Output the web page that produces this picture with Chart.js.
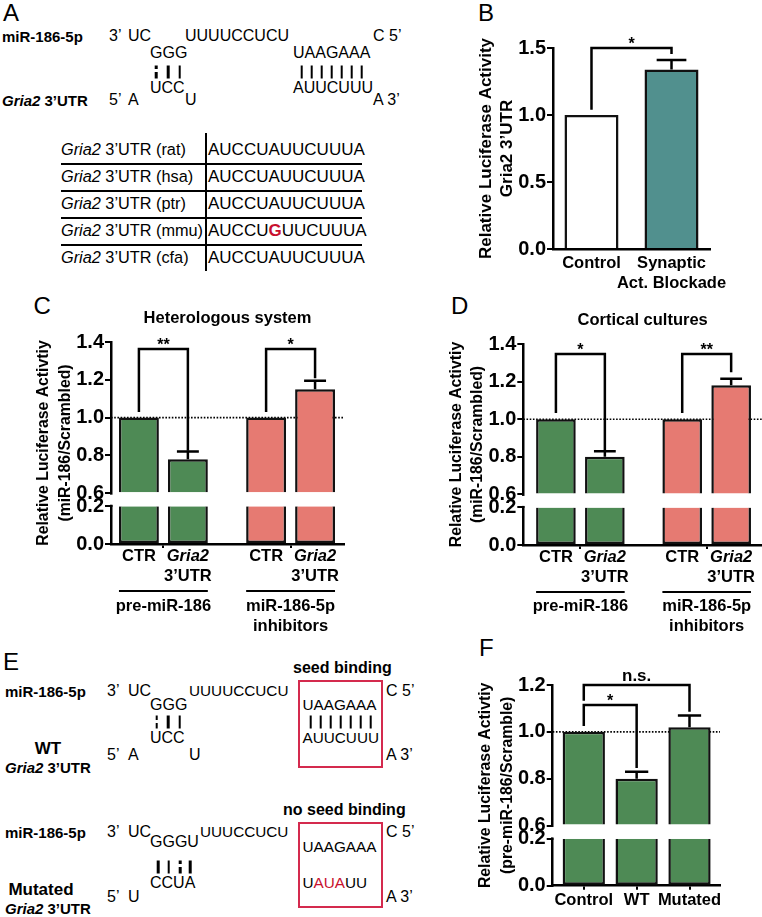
<!DOCTYPE html>
<html>
<head>
<meta charset="utf-8">
<title>miR-186-5p targets Gria2 3'UTR</title>
<script src="https://cdn.jsdelivr.net/npm/chart.js@4.4.1/dist/chart.umd.min.js"></script>
<style>
  html, body { margin: 0; padding: 0; background: #fff; }
  body { position: relative; width: 762px; height: 917px; overflow: hidden;
         font-family: "Liberation Sans", Arial, Helvetica, sans-serif; color: #000; }
  canvas { position: absolute; }
  .t { position: absolute; white-space: nowrap; line-height: 1; transform: translateY(-50%); }
  .c { transform: translate(-50%, -50%); }
  .seq { font-size: 16px; }
  .seqs { font-size: 15.3px; }
  .lab { font-size: 15px; font-weight: bold; }
  .lab2 { font-size: 17px; font-weight: bold; }
  .tab { font-size: 16.3px; }
  .tseq { font-size: 17px; }
  .big { font-size: 24px; }
  .hd { font-size: 16px; font-weight: bold; }
  .red { color: #c8102e; }
  .pair { position: absolute; width: 2.6px; height: 13px; background: #000; transform: translate(-50%, -50%); }
  .pair.d { background: linear-gradient(#000 0 4px, transparent 4px 7px, #000 7px); }
  .hl { position: absolute; background: #000; }
  .box { position: absolute; border: 2px solid #d42a4e; box-sizing: border-box; }
</style>
</head>
<body>
<script>
// ---- values ----
const bLabels = ['Control', ['Synaptic', 'Act. Blockade']];
const bValues = [1.0, 1.34];
const bErrors = [0, 0.07];

const groupLabels = ['pre-miR-186', ['miR-186-5p', 'inhibitors']];
const cCtr = [1.0, 1.0];
const cGria2 = [0.78, 1.15];
const cGria2Err = [0.04, 0.045];

const dCtr = [1.0, 1.0];
const dGria2 = [0.80, 1.18];
const dGria2Err = [0.03, 0.035];

const fLabels = ['Control', 'WT', 'Mutated'];
const fValues = [1.0, 0.80, 1.02];
const fErrors = [0, 0.03, 0.05];

const bTicks = [0, 0.5, 1.0, 1.5];
const cdTopTicks = [0.6, 0.8, 1.0, 1.2, 1.4];
const fTopTicks = [0.6, 0.8, 1.0, 1.2];
const lowTicks = [0, 0.2];

const GREEN = '#4e8a55', SALMON = '#e67a72', TEAL = '#51908e', EDGE = '#111';
const FONT = '"Liberation Sans", Arial, Helvetica, sans-serif';

// ---- sequence panels (A and E) as plain text ----
function put(x, y, html, cls) {
  const d = document.createElement('div');
  d.className = 't ' + (cls || 'seq');
  d.style.left = x + 'px';
  d.style.top = y + 'px';
  d.innerHTML = html;
  document.body.appendChild(d);
}
function pair(x, y, dashed) {
  const d = document.createElement('div');
  d.className = dashed ? 'pair d' : 'pair';
  d.style.left = x + 'px';
  d.style.top = y + 'px';
  document.body.appendChild(d);
}
function rule(x, y, w, h, cls) {
  const d = document.createElement('div');
  d.className = cls || 'hl';
  d.style.left = x + 'px'; d.style.top = y + 'px';
  d.style.width = w + 'px'; d.style.height = h + 'px';
  document.body.appendChild(d);
}

// panel letters
put(3, 13, 'A', 'big'); put(478, 12.5, 'B', 'big');
put(33.5, 306, 'C', 'big'); put(451, 306, 'D', 'big');
put(3, 661.5, 'E', 'big'); put(479, 648, 'F', 'big');

// A: duplex
put(2, 36, 'miR-186-5p', 'lab'); put(109, 36, '3’'); put(128, 36, 'UC');
put(185, 36, 'UUUUCCUCU'); put(373, 36, 'C 5’');
put(150, 52.5, 'GGG'); put(293, 52.5, 'UAAGAAA');
put(150, 88.3, 'UCC'); put(293, 88.3, 'AUUCUUU');
put(2, 100, '<i>Gria2</i> 3’UTR', 'lab'); put(109, 100, '5’'); put(128, 100, 'A');
put(185, 100, 'U'); put(373, 100, 'A 3’');
pair(156, 71.7, true); pair(168, 71.7); pair(179.5, 71.7);
for (let i = 0; i < 7; i++) pair(301.7 + i * 10, 71.7);

// A: conservation table
const species = ['rat', 'hsa', 'ptr', 'mmu', 'cfa'];
species.forEach((s, k) => {
  const y = 149.3 + k * 27;
  put(61, y, '<i>Gria2</i> 3’UTR (' + s + ')', 'tab');
  put(208, y, s === 'mmu' ? 'AUCCU<b class="red">G</b>UUCUUUA' : 'AUCCUAUUCUUUA', 'tseq');
  if (k < 4) rule(61, y + 13.5, 301, 1.8);
});
rule(205, 133, 1.8, 138);

// E: WT duplex
put(293, 668, 'seed binding', 'hd');
put(5, 690.7, 'miR-186-5p', 'lab'); put(107, 690.7, '3’'); put(128, 690.7, 'UC');
put(189, 690.7, 'UUUUCCUCU', 'seqs'); put(386, 690.7, 'C 5’');
put(150, 705, 'GGG'); put(302.5, 705, 'UAAGAAA', 'seqs');
put(150, 738.3, 'UCC'); put(302.5, 738.3, 'AUUCUUU', 'seqs');
put(48, 748.3, 'WT', 'lab2 c');
put(107, 755, '5’'); put(128, 755, 'A'); put(189, 755, 'U'); put(386, 755, 'A 3’');
put(5, 766.7, '<i>Gria2</i> 3’UTR', 'lab');
pair(156.7, 721.7, true); pair(168.3, 721.7); pair(179.5, 721.7);
for (let i = 0; i < 7; i++) pair(310.7 + i * 10, 721.7);
rule(298, 680, 85, 88, 'box');

// E: mutated duplex
put(283, 810, 'no seed binding', 'hd');
put(5, 831.7, 'miR-186-5p', 'lab'); put(107, 831.7, '3’'); put(128, 831.7, 'UC');
put(200, 831.7, 'UUUCCUCU', 'seqs'); put(386, 831.7, 'C 5’');
put(150, 841.7, 'GGGU'); put(302.5, 846.7, 'UAAGAAA', 'seqs');
put(150, 883, 'CCUA'); put(302.5, 883, 'U<span class="red">AUA</span>UU', 'seqs');
put(41, 889, 'Mutated', 'lab2 c');
put(107, 896.7, '5’'); put(128, 896.7, 'U'); put(386, 896.7, 'A 3’');
put(5, 908.3, '<i>Gria2</i> 3’UTR', 'lab');
pair(158.3, 866.7); pair(168.5, 866.7); pair(180, 866.7, true); pair(190, 866.7);
rule(298, 821.7, 85, 86.6, 'box');

// ---- chart helpers ----
function makeCanvas(id, box) {
  const c = document.createElement('canvas');
  c.id = id; c.width = box.w; c.height = box.h;
  c.style.left = box.x + 'px'; c.style.top = box.y + 'px';
  c.style.width = box.w + 'px'; c.style.height = box.h + 'px';
  document.body.appendChild(c);
  return c;
}
function pad(box, area, W, H) {
  return { left: area.l - box.x - W, top: area.t - box.y,
           right: box.x + box.w - area.r, bottom: box.y + box.h - area.b - H };
}
const pts = vals => vals.map((v, i) => ({ x: i, y: v }));
// keep the plot area where the padding puts it
function noAutoPad(s) { s.paddingLeft = s.paddingRight = s.paddingTop = s.paddingBottom = 0; }

function yAxis(min, max, ticks, extra) {
  return Object.assign({
    type: 'linear', min, max, position: 'left', bounds: 'data',
    afterBuildTicks: s => { s.ticks = ticks.map(v => ({ value: v })); },
    afterFit: s => { s.width = 80; noAutoPad(s); },
    ticks: { autoSkip: false, padding: 1, color: '#000', font: { size: 20, weight: 'bold' },
             callback: v => v.toFixed(1) },
    grid: { drawOnChartArea: false, drawTicks: true, tickLength: 6, lineWidth: 2, color: '#000' },
    border: { display: true, color: '#000', width: 2.5 }
  }, extra);
}
function xAxis(min, max, labels, height, padding, tickLen) {
  return {
    type: 'linear', min, max, offset: false, bounds: 'data',
    afterBuildTicks: s => { s.ticks = labels.map((l, i) => ({ value: i })); },
    afterFit: s => { s.height = height; noAutoPad(s); },
    ticks: { autoSkip: false, maxRotation: 0, padding, color: '#000',
             font: { size: 16.5, weight: 'bold' }, callback: v => labels[v] },
    grid: { display: tickLen > 0, drawOnChartArea: false, drawTicks: tickLen > 0,
            tickLength: tickLen, lineWidth: 2, color: '#000', offset: false },
    border: { display: true, color: '#000', width: 2.5 }
  };
}
// broken value axis: two stacked y scales, 0.6.. on top, 0..0.2 below
function valueAxes(topTicks, low, gap) {
  const tMin = topTicks[0] - gap, tMax = topTicks[topTicks.length - 1];
  const lMin = low[0], lMax = low[low.length - 1];
  return {
    yBot: yAxis(lMin, lMax, low, { stack: 'v', stackWeight: lMax - lMin, weight: 1 }),
    yTop: yAxis(tMin, tMax, topTicks, { stack: 'v', stackWeight: tMax - tMin, weight: 2 })
  };
}
function upperLower(label, values, errors, colors, stack, base, lowMax, extra) {
  const common = { label, backgroundColor: colors, borderColor: EDGE, borderWidth: 2.5, stack };
  return [
    Object.assign({}, common, { data: pts(values), errors, yAxisID: 'yTop', base }, extra),
    Object.assign({}, common, { data: pts(values.map(v => Math.min(v, lowMax))),
                                yAxisID: 'yBot', borderSkipped: 'end' }, extra)
  ];
}

// draws reference line, axis break, error bars, brackets, titles, bar labels
function extras(o) {
  return {
    id: 'extras',
    beforeDatasetsDraw(chart) {
      if (o.refLine === undefined) return;
      const { ctx, chartArea: a } = chart;
      const y = chart.scales[o.valueAxis].getPixelForValue(o.refLine);
      ctx.save();
      ctx.strokeStyle = '#000'; ctx.lineWidth = 1.6; ctx.setLineDash([1.6, 1.6]);
      ctx.beginPath(); ctx.moveTo(a.left, y); ctx.lineTo(a.right, y); ctx.stroke();
      ctx.restore();
    },
    afterDraw(chart) {
      const { ctx, chartArea: a } = chart;
      const vs = chart.scales[o.valueAxis];
      ctx.save();
      if (o.broken) {
        const top = chart.scales.yTop, bot = chart.scales.yBot;
        const y1 = top.getPixelForValue(top.ticks[0].value) + 1.5;
        const y2 = bot.getPixelForValue(bot.max) - 1.5;
        ctx.fillStyle = '#fff';
        ctx.fillRect(a.left - 4, y1, 8, y2 - y1);
      }
      ctx.fillStyle = '#000'; ctx.strokeStyle = '#000';
      // error bars (upper half only, as in the figure)
      chart.data.datasets.forEach((ds, i) => {
        if (!ds.errors) return;
        const meta = chart.getDatasetMeta(i);
        const sc = chart.scales[ds.yAxisID || 'y'];
        meta.data.forEach((el, j) => {
          const e = ds.errors[j];
          if (!e) return;
          const yt = sc.getPixelForValue(ds.data[j].y + e);
          const cap = el.width * 0.55;
          ctx.lineWidth = 2.5;
          ctx.beginPath();
          ctx.moveTo(el.x, el.y); ctx.lineTo(el.x, yt);
          ctx.moveTo(el.x - cap / 2, yt); ctx.lineTo(el.x + cap / 2, yt);
          ctx.stroke();
        });
      });
      // significance brackets
      (o.brackets || []).forEach(b => {
        const x1 = chart.getDatasetMeta(b.from[0]).data[b.from[1]].x;
        const x2 = chart.getDatasetMeta(b.to[0]).data[b.to[1]].x;
        const [yl, yh, yr] = b.y.map(v => vs.getPixelForValue(v));
        ctx.lineWidth = 2.5;
        ctx.beginPath();
        ctx.moveTo(x1, yl); ctx.lineTo(x1, yh); ctx.lineTo(x2, yh); ctx.lineTo(x2, yr);
        ctx.stroke();
        const star = /^\*+$/.test(b.text);
        ctx.font = `bold ${star ? 16 : 17}px ${FONT}`;
        ctx.textAlign = 'center'; ctx.textBaseline = 'alphabetic';
        ctx.fillText(b.text, (x1 + x2) / 2, star ? yh + 1 : yh - 4);
      });
      // heading
      if (o.heading) {
        ctx.font = `bold 16.5px ${FONT}`;
        ctx.textAlign = 'center'; ctx.textBaseline = 'middle';
        ctx.fillText(o.heading, (a.left + a.right) / 2, a.top - 24);
      }
      // labels under each bar + group underlines
      (o.barLabels || []).forEach(bl => {
        chart.getDatasetMeta(bl.ds).data.forEach(el => {
          bl.lines.forEach(([txt, it], k) => {
            ctx.font = `${it ? 'italic ' : ''}bold 16.5px ${FONT}`;
            ctx.textAlign = 'center'; ctx.textBaseline = 'middle';
            ctx.fillText(txt, el.x, a.bottom + 12.5 + k * 20);
          });
        });
      });
      if (o.underline) {
        const n = chart.getDatasetMeta(o.underline[0]).data.length;
        for (let j = 0; j < n; j++) {
          const els = o.underline.map(d => chart.getDatasetMeta(d).data[j]);
          const l = Math.min(...els.map(e => e.x - e.width / 2));
          const r = Math.max(...els.map(e => e.x + e.width / 2));
          ctx.lineWidth = 1.8;
          ctx.beginPath(); ctx.moveTo(l, a.bottom + 47); ctx.lineTo(r, a.bottom + 47); ctx.stroke();
        }
      }
      // rotated y title spanning the whole axis
      if (o.yTitle) {
        ctx.translate(a.left - 67, (a.top + a.bottom) / 2);
        ctx.rotate(-Math.PI / 2);
        ctx.font = `bold ${o.titleSize}px ${FONT}`;
        ctx.textAlign = 'center'; ctx.textBaseline = 'middle';
        o.yTitle.forEach((line, k) => ctx.fillText(line, 0, k * 21.5));
      }
      ctx.restore();
    }
  };
}

Chart.defaults.font.family = FONT;
Chart.defaults.color = '#000';
Chart.defaults.animation = false;
Chart.defaults.plugins.legend.display = false;
Chart.defaults.plugins.tooltip.enabled = false;

// ---- B ----
const boxB = { x: 460, y: 20, w: 302, h: 300 };
const areaB = { l: 553, t: 48, r: 710, b: 249 };
new Chart(makeCanvas('chartB', boxB), {
  type: 'bar',
  data: { datasets: [{ label: 'Gria2 3’UTR', data: pts(bValues), errors: bErrors,
    backgroundColor: ['#fff', TEAL], borderColor: EDGE, borderWidth: 2.5,
    categoryPercentage: 1, barPercentage: 0.675 }] },
  options: {
    responsive: false, events: [],
    layout: { autoPadding: false, padding: pad(boxB, areaB, 80, 60) },
    scales: { x: xAxis(-0.481, 1.481, bLabels, 60, 4.4, 0), y: yAxis(0, 1.5, bTicks) }
  },
  plugins: [extras({ valueAxis: 'y', titleSize: 17,
    yTitle: ['Relative Luciferase Activity', 'Gria2 3’UTR'],
    brackets: [{ from: [0, 0], to: [0, 1], y: [1.04, 1.5, 1.455], text: '*' }] })]
});

// ---- C ----
const boxC = { x: 20, y: 300, w: 345, h: 340 };
const areaC = { l: 111, t: 342, r: 344, b: 544 };
new Chart(makeCanvas('chartC', boxC), {
  type: 'bar',
  data: { datasets: [
    ...upperLower('CTR', cCtr, null, [GREEN, SALMON], 'ctr', cdTopTicks[0], lowTicks[1]),
    ...upperLower('Gria2 3’UTR', cGria2, cGria2Err, [GREEN, SALMON], 'gria', cdTopTicks[0], lowTicks[1])
  ] },
  options: {
    responsive: false, events: [],
    layout: { autoPadding: false, padding: pad(boxC, areaC, 80, 95) },
    datasets: { bar: { categoryPercentage: 0.77, barPercentage: 0.815 } },
    scales: Object.assign({ x: xAxis(-0.412, 1.42, groupLabels, 95, 49, 4) },
                          valueAxes(cdTopTicks, lowTicks, 0.069))
  },
  plugins: [extras({ valueAxis: 'yTop', broken: true, refLine: 1.0, titleSize: 15.8,
    yTitle: ['Relative Luciferase Activtiy', '(miR-186/Scrambled)'],
    heading: 'Heterologous system',
    barLabels: [{ ds: 0, lines: [['CTR', false]] }, { ds: 2, lines: [['Gria2', true], ['3’UTR', false]] }],
    underline: [0, 2],
    brackets: [{ from: [0, 0], to: [2, 0], y: [1.03, 1.363, 0.825], text: '**' },
               { from: [0, 1], to: [2, 1], y: [1.03, 1.363, 1.208], text: '*' }] })]
});

// ---- D ----
const boxD = { x: 400, y: 300, w: 362, h: 340 };
const areaD = { l: 523.3, t: 344, r: 762, b: 545 };
new Chart(makeCanvas('chartD', boxD), {
  type: 'bar',
  data: { datasets: [
    ...upperLower('CTR', dCtr, null, [GREEN, SALMON], 'ctr', cdTopTicks[0], lowTicks[1]),
    ...upperLower('Gria2 3’UTR', dGria2, dGria2Err, [GREEN, SALMON], 'gria', cdTopTicks[0], lowTicks[1])
  ] },
  options: {
    responsive: false, events: [],
    layout: { autoPadding: false, padding: pad(boxD, areaD, 80, 95) },
    datasets: { bar: { categoryPercentage: 0.775, barPercentage: 0.81 } },
    scales: Object.assign({ x: xAxis(-0.452, 1.438, groupLabels, 95, 48, 4) },
                          valueAxes(cdTopTicks, lowTicks, 0.069))
  },
  plugins: [extras({ valueAxis: 'yTop', broken: true, refLine: 1.0, titleSize: 15.8,
    yTitle: ['Relative Luciferase Activtiy', '(miR-186/Scrambled)'],
    heading: 'Cortical cultures',
    barLabels: [{ ds: 0, lines: [['CTR', false]] }, { ds: 2, lines: [['Gria2', true], ['3’UTR', false]] }],
    underline: [0, 2],
    brackets: [{ from: [0, 0], to: [2, 0], y: [1.033, 1.347, 0.836], text: '*' },
               { from: [0, 1], to: [2, 1], y: [1.033, 1.347, 1.25], text: '**' }] })]
});

// ---- F ----
const boxF = { x: 455, y: 640, w: 307, h: 277 };
const areaF = { l: 552.7, t: 685, r: 720, b: 885.7 };
new Chart(makeCanvas('chartF', boxF), {
  type: 'bar',
  data: { datasets: upperLower('pre-miR-186/Scramble', fValues, fErrors, GREEN, undefined,
    fTopTicks[0], lowTicks[1], { grouped: false, categoryPercentage: 1, barPercentage: 0.8 }) },
  options: {
    responsive: false, events: [],
    layout: { autoPadding: false, padding: pad(boxF, areaF, 80, 26) },
    scales: Object.assign({ x: xAxis(-0.588, 2.577, fLabels, 26, 1, 4) },
                          valueAxes(fTopTicks, lowTicks, 0.057))
  },
  plugins: [extras({ valueAxis: 'yTop', broken: true, refLine: 1.0, titleSize: 15.8,
    yTitle: ['Relative Luciferase Activtiy', '(pre-miR-186/Scramble)'],
    brackets: [{ from: [0, 0], to: [0, 1], y: [1.025, 1.115, 0.846], text: '*' },
               { from: [0, 0], to: [0, 2], y: [1.133, 1.2, 1.086], text: 'n.s.' }] })]
});
</script>
</body>
</html>
